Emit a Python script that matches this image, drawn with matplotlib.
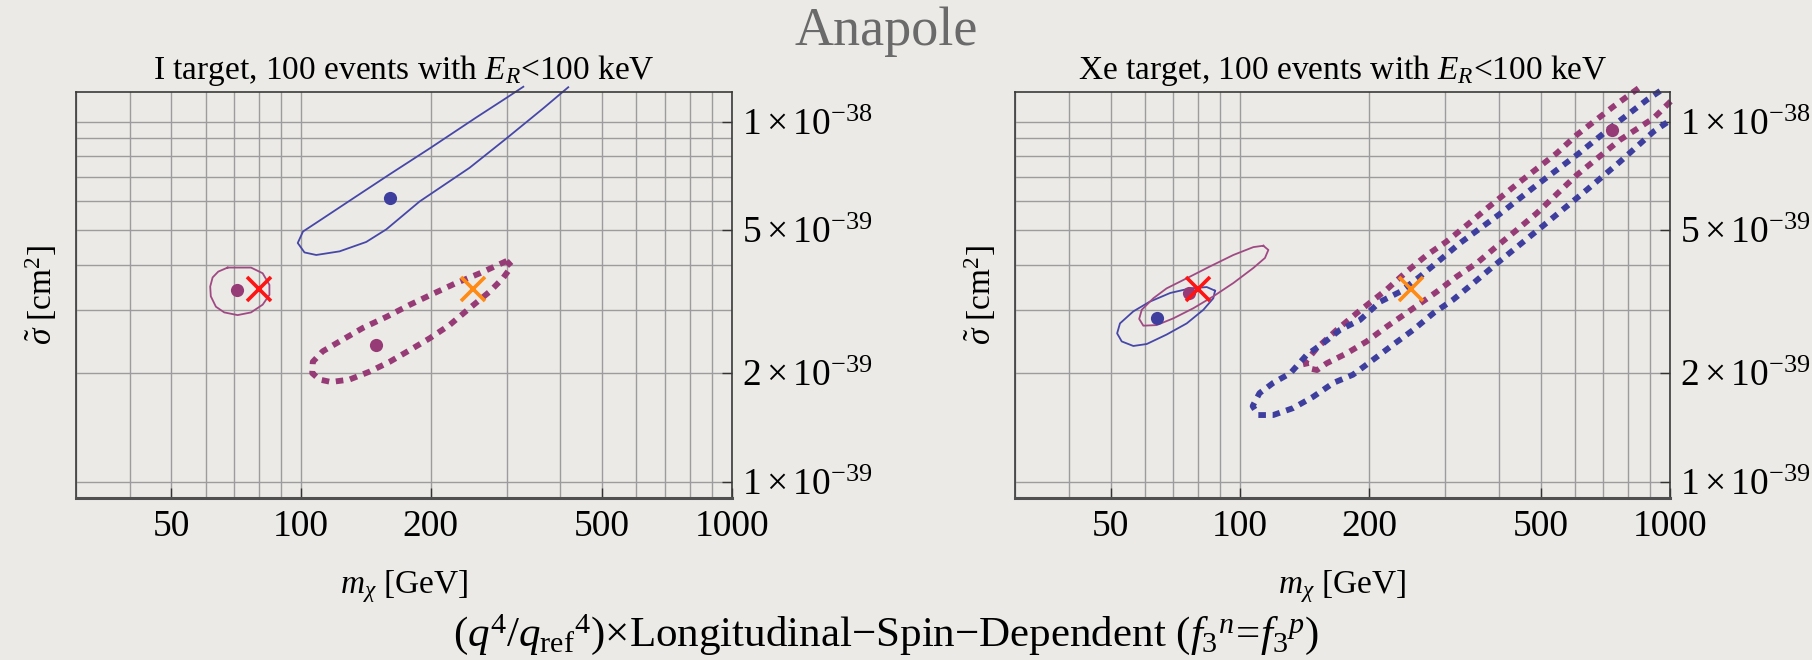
import numpy as np
import matplotlib
matplotlib.use("Agg")
import matplotlib.pyplot as plt
from matplotlib.ticker import FixedLocator, FixedFormatter, LogLocator, NullFormatter

plt.rcParams['font.family'] = ['Liberation Serif', 'DejaVu Serif']
plt.rcParams['mathtext.fontset'] = 'custom'
plt.rcParams['mathtext.rm'] = 'Liberation Serif'
plt.rcParams['mathtext.it'] = 'Liberation Serif:italic'
plt.rcParams['mathtext.bf'] = 'Liberation Serif:bold'

BG = '#ebeae6'
BLUE = '#3e3e9e'
PURPLE = '#973b77'
BLUE_THIN = '#4747a8'
PURPLE_THIN = '#a04a84'

# ---- data (m in GeV, sigma in units of 1e-39 cm^2) ----
x_ticks = [50, 100, 200, 500, 1000]
x_ticklabels = ['50', '100', '200', '500', '1000']
y_ticks = [1, 2, 5, 10]
y_ticklabels = [r'$1\times10^{-39}$', r'$2\times10^{-39}$', r'$5\times10^{-39}$', r'$1\times10^{-38}$']

bench_red = (80, 3.42)
bench_orange = (250, 3.42)

# I target
i_blue_m = [328, 300, 255, 199, 160, 134, 112, 101, 98.2, 101.8, 108.4, 122.8, 141.6, 157.7, 188.4,
            246, 300, 365, 417]
i_blue_s = [12.50, 11.65, 10.27, 8.43, 7.12, 6.19, 5.37, 4.95, 4.60, 4.33, 4.26, 4.36, 4.63, 5.02, 6.00,
            7.44, 8.99, 10.89, 12.46]

i_ring_m = [67.5, 76.5, 81.4, 84.4, 84.4, 81.4, 76.5, 71.2, 66.3, 63.4, 61.7, 61.5, 62.3, 64.2, 67.5]
i_ring_s = [3.93, 3.93, 3.79, 3.52, 3.30, 3.10, 2.95, 2.90, 2.95, 3.06, 3.27, 3.48, 3.69, 3.83, 3.93]

i_dash_m = [300, 260, 229, 202, 179, 158, 139, 122.8, 112.2, 106.4, 106.1, 110.3, 117.4, 129.5, 144.2,
            160.4, 179, 198.8, 221, 246, 274, 294, 308, 300]
i_dash_s = [4.10, 3.79, 3.56, 3.32, 3.10, 2.87, 2.67, 2.45, 2.30, 2.15, 2.00, 1.92, 1.89, 1.92, 2.02,
            2.15, 2.32, 2.50, 2.72, 3.03, 3.37, 3.67, 3.96, 4.10]

i_dot_blue = (161, 6.13)
i_dot_purple = [(71.0, 3.41), (149, 2.40)]

# Xe target
xe_ring_m = [113.3, 116.4, 114.3, 107.4, 96.5, 86.7, 77.9, 70.0, 64.0, 59.6, 58.3, 59.1, 62.9, 67.5,
             75.2, 85.2, 96.5, 107.4, 113.3]
xe_ring_s = [4.52, 4.40, 4.18, 3.92, 3.56, 3.27, 3.03, 2.84, 2.72, 2.71, 2.83, 3.00, 3.23, 3.44,
             3.67, 3.96, 4.26, 4.48, 4.52]

xe_bring_m = [87.5, 86.7, 82.2, 75.2, 67.5, 60.7, 56.5, 53.1, 51.8, 52.6, 56.5, 61.7, 68.8, 76.5, 83.7, 87.5]
xe_bring_s = [3.39, 3.23, 3.00, 2.75, 2.56, 2.41, 2.38, 2.45, 2.58, 2.75, 2.97, 3.16, 3.34, 3.44, 3.47, 3.39]

xe_pdash_m = [844, 738, 607, 545, 448, 375, 337, 302, 272, 244, 219, 187, 168, 151, 142, 143, 151, 159,
              177, 197, 219, 244, 287, 319, 355, 395, 440, 490, 607, 765, 915, 1011]
xe_pdash_s = [12.38, 11.01, 9.19, 8.17, 6.81, 5.74, 5.16, 4.64, 4.26, 3.83, 3.41, 2.94, 2.64, 2.35, 2.15,
              2.07, 2.04, 2.13, 2.27, 2.45, 2.69, 2.94, 3.37, 3.71, 4.04, 4.50, 5.00, 5.57, 7.11, 8.90,
              10.22, 11.49]

xe_bdash_m = [948, 883, 725, 607, 490, 402, 325, 292, 262, 236, 212, 190, 171, 156, 143, 131, 119.5, 111,
              107, 110.3, 119.5, 133, 148, 165, 183, 204, 227, 253, 282, 313, 349, 388, 432, 499, 640,
              765, 915, 1011]
xe_bdash_s = [12.17, 11.49, 9.59, 8.08, 6.67, 5.54, 4.60, 4.13, 3.71, 3.37, 3.16, 2.81, 2.64, 2.42, 2.25,
              2.00, 1.88, 1.76, 1.62, 1.53, 1.53, 1.60, 1.72, 1.88, 1.98, 2.18, 2.40, 2.64, 2.94, 3.20,
              3.56, 3.96, 4.40, 5.06, 6.46, 7.74, 9.38, 10.17]

xe_dot_blue = (64.2, 2.84)
xe_dot_purple = [(76.2, 3.34), (732, 9.48)]

S = 1e-39
FS = 24
TFS = 27


def setup(ax, title):
    ax.set_facecolor(BG)
    ax.set_xscale('log')
    ax.set_yscale('log')
    ax.set_xlim(30, 1000)
    ax.set_ylim(0.90e-39, 1.205e-38)
    ax.xaxis.set_major_locator(FixedLocator(x_ticks))
    ax.xaxis.set_major_formatter(FixedFormatter(x_ticklabels))
    ax.xaxis.set_minor_locator(LogLocator(subs=np.arange(1, 10)))
    ax.xaxis.set_minor_formatter(NullFormatter())
    ax.yaxis.set_major_locator(FixedLocator([v * S for v in y_ticks]))
    ax.yaxis.set_major_formatter(FixedFormatter(y_ticklabels))
    ax.yaxis.set_minor_locator(LogLocator(subs=np.arange(1, 10)))
    ax.yaxis.set_minor_formatter(NullFormatter())
    ax.yaxis.tick_right()
    ax.yaxis.set_label_position('left')
    ax.tick_params(which='major', direction='in', length=7, width=1, color='#333333', labelsize=TFS)
    ax.tick_params(axis='x', which='major', pad=8)
    ax.tick_params(axis='y', which='major', pad=7)
    ax.tick_params(which='minor', length=0)
    ax.grid(True, which='both', color='#9c9c9c', lw=1.0)
    ax.set_axisbelow(True)
    for side in ['left', 'top', 'right']:
        ax.spines[side].set_color('#3a3a3a')
        ax.spines[side].set_linewidth(1.2)
    ax.spines['bottom'].set_color('#505050')
    ax.spines['bottom'].set_linewidth(2.2)
    ax.set_title(title, fontsize=FS, pad=10)
    ax.set_xlabel(r'$m_\chi$ [GeV]', fontsize=FS, labelpad=18)
    ax.set_ylabel(r'$\tilde{\sigma}$ [cm$^2$]', fontsize=FS, labelpad=12)


def thin(ax, m, s, color):
    ax.plot(m, np.array(s) * S, color=color, lw=1.3, clip_on=False, solid_joinstyle='round')


def dashed(ax, m, s, color):
    ax.plot(m, np.array(s) * S, color=color, lw=4.2, ls=(0, (1.3, 1.15)),
            dash_capstyle='butt', clip_on=False)


def dot(ax, p, color):
    ax.plot(p[0], p[1] * S, 'o', color=color, ms=9.5, mec='none', zorder=5)


def bench(ax):
    ax.plot(bench_red[0], bench_red[1] * S, 'x', color='#ff1414', ms=17, mew=2.6, zorder=6)
    ax.plot(bench_orange[0], bench_orange[1] * S, 'x', color='#ff8a14', ms=17, mew=2.6, zorder=6)


fig = plt.figure(figsize=(18.12, 6.6), dpi=100, facecolor=BG)
ax1 = fig.add_axes([0.0419, 0.2455, 0.3620, 0.6144])
ax2 = fig.add_axes([0.5602, 0.2455, 0.3615, 0.6144])

setup(ax1, r'I target, 100 events with $E_R$<100 keV')
thin(ax1, i_blue_m, i_blue_s, BLUE_THIN)
thin(ax1, i_ring_m, i_ring_s, PURPLE_THIN)
dashed(ax1, i_dash_m, i_dash_s, PURPLE)
dot(ax1, i_dot_blue, BLUE)
for p in i_dot_purple:
    dot(ax1, p, PURPLE)
bench(ax1)

setup(ax2, r'Xe target, 100 events with $E_R$<100 keV')
thin(ax2, xe_bring_m, xe_bring_s, BLUE_THIN)
thin(ax2, xe_ring_m, xe_ring_s, PURPLE_THIN)
dashed(ax2, xe_pdash_m, xe_pdash_s, PURPLE)
dashed(ax2, xe_bdash_m, xe_bdash_s, BLUE)
dot(ax2, xe_dot_blue, BLUE)
for p in xe_dot_purple:
    dot(ax2, p, PURPLE)
bench(ax2)

fig.text(0.489, 0.932, 'Anapole', fontsize=39, color='#6a6a6a', ha='center', va='baseline')
fig.text(0.489, 0.022,
         r'$(q^4/q_{\rm ref}{}^4)$×Longitudinal−Spin−Dependent $(f_3{}^n\!=\!f_3{}^p)$',
         fontsize=31, ha='center', va='baseline')

fig.savefig('out.png', dpi=100, facecolor=BG)
